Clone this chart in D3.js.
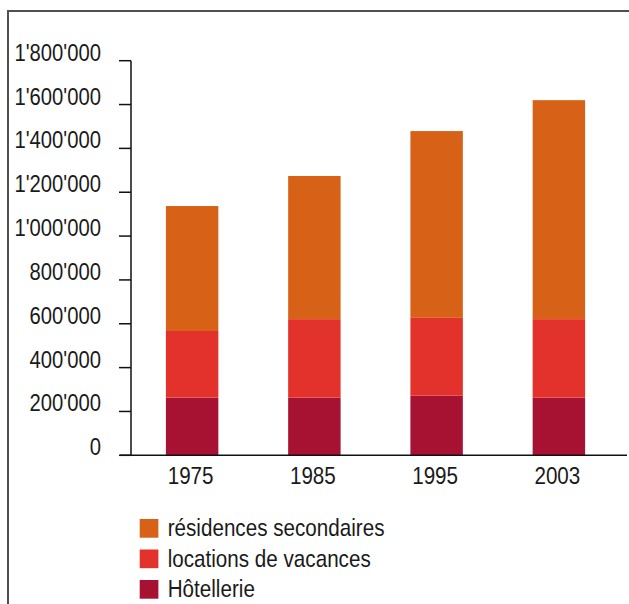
<!DOCTYPE html>
<html><head><meta charset="utf-8">
<script src="https://cdn.jsdelivr.net/npm/d3@7"></script>
<style>body{margin:0;background:#fff}svg{display:block}text{font-family:"Liberation Sans",Arial,sans-serif;fill:#1a1a1a}</style>
</head><body>
<script>
const years = ["1975","1985","1995","2003"];
const hotellerie = [263000, 263000, 272000, 263000];
const locations = [304000, 358000, 355000, 358000];
const residences = [570000, 653000, 852000, 999000];
const seriesNames = ["Hôtellerie","locations de vacances","résidences secondaires"];
const seriesColors = ["#A81232","#E3322B","#D76217"];
const yTicks = [0,200000,400000,600000,800000,1000000,1200000,1400000,1600000,1800000];

const W=629,H=604;
const svg=d3.select("body").append("svg").attr("width",W).attr("height",H);
svg.append("rect").attr("x",8).attr("y",11).attr("width",W+20).attr("height",H+20)
  .attr("fill","none").attr("stroke","#505050").attr("stroke-width",2);

const axX=131, y0=455.3, yTop=60.7;
const y=d3.scaleLinear().domain([0,1800000]).range([y0,yTop]);
const x=d3.scaleBand().domain(years).range([axX,620]).paddingInner(0.571).paddingOuter(0.2855);

const table=years.map((yr,i)=>({year:yr,"Hôtellerie":hotellerie[i],"locations de vacances":locations[i],"résidences secondaires":residences[i]}));
const stacked=d3.stack().keys(seriesNames)(table);

svg.append("g").selectAll("g").data(stacked).join("g").attr("fill",(d,i)=>seriesColors[i])
  .selectAll("rect").data(d=>d).join("rect")
  .attr("x",d=>x(d.data.year)).attr("width",x.bandwidth())
  .attr("y",d=>y(d[1])).attr("height",d=>y(d[0])-y(d[1]));

// y axis
const fmt=v=>d3.format(",")(v).replace(/,/g,"'");
const ya=svg.append("g");
ya.append("line").attr("x1",axX).attr("x2",axX).attr("y1",yTop).attr("y2",y0).attr("stroke","#111").attr("stroke-width",1.5);
ya.selectAll("line.t").data(yTicks).join("line").attr("class","t")
  .attr("x1",119).attr("x2",axX).attr("y1",d=>y(d)).attr("y2",d=>y(d)).attr("stroke","#111").attr("stroke-width",1.5);
ya.selectAll("text").data(yTicks).join("text")
  .attr("transform",d=>`translate(101,${y(d)}) scale(0.88,1)`)
  .attr("text-anchor","end").style("font-size","23px").text(fmt);

// x axis
svg.append("line").attr("x1",120).attr("x2",627).attr("y1",y0).attr("y2",y0).attr("stroke","#111").attr("stroke-width",1.5);
svg.append("g").selectAll("text").data(years).join("text")
  .attr("transform",d=>`translate(${x(d)+x.bandwidth()/2-1.5},484.3) scale(0.86,1)`)
  .attr("text-anchor","middle").style("font-size","24px").text(d=>d);

// legend
const legOrder=[2,1,0];
const lg=svg.append("g").selectAll("g").data(legOrder).join("g")
  .attr("transform",(d,i)=>`translate(139.7,${519+i*30.5})`);
lg.append("rect").attr("width",18.7).attr("height",18.7).attr("fill",d=>seriesColors[d]);
lg.append("text").attr("transform","translate(28,17) scale(0.86,1)").style("font-size","24px").text(d=>seriesNames[d]);
</script>
</body></html>
